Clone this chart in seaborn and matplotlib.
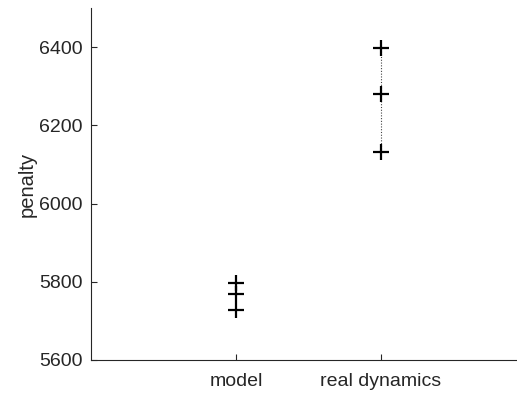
import matplotlib
matplotlib.use("Agg")
import matplotlib.pyplot as plt
import seaborn as sns
import pandas as pd
import numpy as np

# Penalty obtained for each method (three runs each)
categories = ["model", "real dynamics"]
model_penalty = [5798, 5768, 5728]
real_penalty = [6397, 6279, 6133]
show_range = [False, True]
y_ticks = [5600, 5800, 6000, 6200, 6400]

sns.set_theme(style="white")
plt.rcParams["font.family"] = ["Liberation Sans", "DejaVu Sans"]

df = pd.DataFrame({
    "method": [categories[0]] * len(model_penalty) + [categories[1]] * len(real_penalty),
    "penalty": model_penalty + real_penalty,
})
df["pos"] = df["method"].map({c: i + 1 for i, c in enumerate(categories)})

W, H = 517, 394
fig = plt.figure(figsize=(W / 100, H / 100), dpi=100)
ax = fig.add_axes([91 / W, 34 / H, 435 / W, 352 / H])

# dotted range line for the groups that show one
for i, c in enumerate(categories):
    if show_range[i]:
        vals = df.loc[df["method"] == c, "penalty"]
        ax.plot([i + 1, i + 1], [vals.min(), vals.max()], linestyle=(0, (1, 1.5)),
                color="#444444", linewidth=0.8, zorder=1)

sns.scatterplot(data=df, x="pos", y="penalty", marker="+", s=125, color="black",
                linewidth=1.6, ax=ax, zorder=3, legend=False)

ax.set_xlim(0, 3)
ax.set_ylim(5600, 6500)
ax.set_xticks(range(1, len(categories) + 1))
ax.set_xticklabels(categories)
ax.set_yticks(y_ticks)
ax.set_xlabel("")
ax.set_ylabel("penalty", fontsize=14.5, color="#262626", labelpad=2)

for side in ["top", "right"]:
    ax.spines[side].set_visible(False)
for side in ["left", "bottom"]:
    ax.spines[side].set_color("#262626")
    ax.spines[side].set_linewidth(0.8)
ax.tick_params(axis="both", direction="in", length=4, width=0.8, color="#262626",
               labelsize=14, labelcolor="#262626", bottom=True, left=True)
ax.tick_params(axis="y", pad=6)
ax.tick_params(axis="x", pad=9)

fig.savefig("out.png", dpi=100, facecolor="white")
